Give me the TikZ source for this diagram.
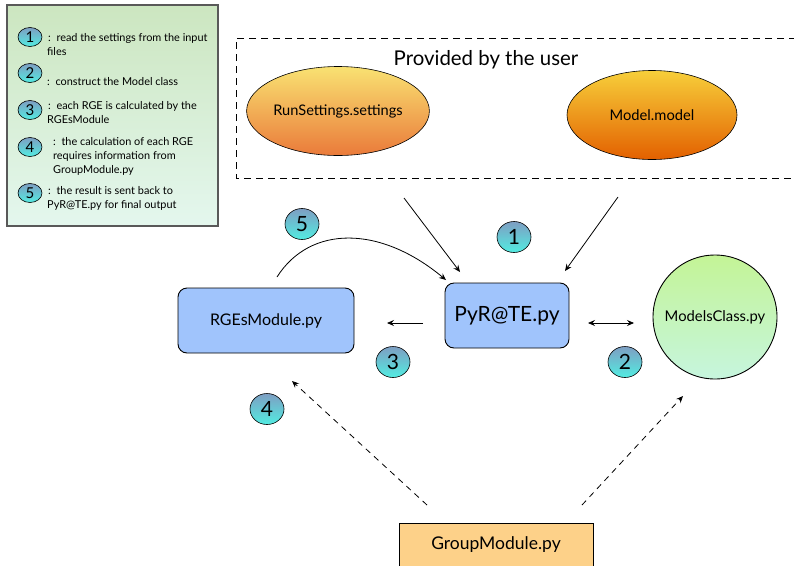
\documentclass[tikz,border=0pt]{standalone}
\usepackage{fontspec}
\setmainfont{Lato}
\usetikzlibrary{shapes.geometric,arrows.meta}
\definecolor{badgetop}{HTML}{7E9EC2}
\definecolor{badgebot}{HTML}{52ECE2}
\definecolor{legtop}{HTML}{CCE6C0}
\definecolor{legbot}{HTML}{E4F7EE}
\definecolor{boxblue}{HTML}{A0C4FC}
\definecolor{grpfill}{HTML}{FDD189}
\definecolor{rstop}{HTML}{F9E272}
\definecolor{rsbot}{HTML}{EA7A3A}
\definecolor{mmtop}{HTML}{F7CF3A}
\definecolor{mmbot}{HTML}{E36000}
\definecolor{mctop}{HTML}{C4F496}
\definecolor{mcbot}{HTML}{C6F5DE}
\tikzset{
  badge/.style={ellipse, draw=black, line width=0.6pt, top color=badgetop, bottom color=badgebot, inner sep=0pt},
  bigbadge/.style={badge, minimum width=34pt, minimum height=31pt, font=\fontsize{21}{21}\selectfont},
  smallbadge/.style={badge, minimum width=24pt, minimum height=19pt, font=\fontsize{15}{15}\selectfont},
  legtext/.style={anchor=base west, inner sep=0pt, font=\fontsize{10.9}{12}\selectfont},
  modbox/.style={draw=black, line width=0.9pt, rounded corners=9pt, fill=boxblue},
  arr/.style={line width=0.8pt, -{Stealth[length=7pt,width=6pt,inset=2.5pt]}},
  dasharr/.style={arr, dash pattern=on 6pt off 5pt}
}
\begin{document}
\begin{tikzpicture}[x=1pt,y=-1pt]
\useasboundingbox (0,0) rectangle (794,565);
\clip (0,0) rectangle (794,565);
% legend
\path[draw=black!65, line width=1.2pt, top color=legtop, bottom color=legbot] (7,5) rectangle (218,226);
\node[smallbadge] (l1) at (30,37) {1};
\node[legtext] (t1a) at (48,41) {:\ \ read the settings from the input};
\node[legtext] (t1b) at (47,55) {files};
\node[smallbadge] (l2) at (30,73) {2};
\node[legtext] (t2a) at (47,85) {:\ \ construct the Model class};
\node[smallbadge] (l3) at (30,110) {3};
\node[legtext] (t3a) at (48,109) {:\ \ each RGE is calculated by the};
\node[legtext] (t3b) at (47,123) {RGEsModule};
\node[smallbadge] (l4) at (30,147) {4};
\node[legtext] (t4a) at (53,145) {:\ \ the calculation of each RGE};
\node[legtext] (t4b) at (53,159) {requires information from};
\node[legtext] (t4c) at (53,173) {GroupModule.py};
\node[smallbadge] (l5) at (30,193) {5};
\node[legtext] (t5a) at (48,194) {:\ \ the result is sent back to};
\node[legtext] (t5b) at (47,208) {PyR@TE.py for final output};
% user box
\draw[line width=0.8pt, dash pattern=on 7pt off 5pt] (820,38) -- (236,38) -- (236,178) -- (820,178);
\node[font=\fontsize{20.4}{20.4}\selectfont] (user) at (486,60) {Provided by the user};
\node[ellipse, draw=black, line width=0.6pt, top color=rstop, bottom color=rsbot, minimum width=170pt, minimum height=89pt, inner sep=0pt, font=\fontsize{14.6}{14.6}\selectfont] (rs) at (338,111) {RunSettings.settings};
\node[ellipse, draw=black, line width=0.6pt, top color=mmtop, bottom color=mmbot, minimum width=170pt, minimum height=89pt, inner sep=0pt, font=\fontsize{14.7}{14.7}\selectfont] (mm) at (652,115) {Model.model};
% main nodes
\node[modbox, minimum width=124pt, minimum height=65pt, font=\fontsize{21}{21}\selectfont] (py) at (507,315.5) {PyR@TE.py};
\node[modbox, minimum width=176pt, minimum height=65pt, font=\fontsize{16}{16}\selectfont] (rge) at (266,320.5) {RGEsModule.py};
\node[circle, draw=black, line width=0.9pt, top color=mctop, bottom color=mcbot, minimum size=124pt, inner sep=0pt, font=\fontsize{14.8}{14.8}\selectfont] (mc) at (715,317) {ModelsClass.py};
\node[draw=black, line width=0.9pt, fill=grpfill, minimum width=194pt, minimum height=60pt, anchor=north, font=\fontsize{14}{14}\selectfont] (grp) at (496,523) {};
\node[font=\fontsize{17.5}{17.5}\selectfont] (grpt) at (496,545) {GroupModule.py};
% free ends
\coordinate (a1s) at (404,198);
\coordinate (a1e) at (460,272);
\coordinate (a2s) at (618,197);
\coordinate (a2e) at (565,271);
\coordinate (a3s) at (423,323);
\coordinate (a3e) at (387,323);
\coordinate (a4s) at (588,323);
\coordinate (a4e) at (634,323);
\coordinate (a5s) at (277,277);
\coordinate (a5e) at (446,280);
\coordinate (d1s) at (427,505);
\coordinate (d1e) at (292,381);
\coordinate (d2s) at (582,505);
\coordinate (d2e) at (683,396);
\draw[arr] (a1s) -- (a1e);
\draw[arr] (a2s) -- (a2e);
\draw[arr] (a3s) -- (a3e);
\draw[arr, {Stealth[length=7pt,width=6pt,inset=2.5pt]}-{Stealth[length=7pt,width=6pt,inset=2.5pt]}] (a4s) -- (a4e);
\draw[arr] (a5s) .. controls (310,225) and (380,225) .. (a5e);
\draw[dasharr] (d1s) -- (d1e);
\draw[dasharr] (d2s) -- (d2e);
% badges
\node[bigbadge] (b5) at (302,224) {5};
\node[bigbadge] (b1) at (514,237) {1};
\node[bigbadge] (b3) at (393,362) {3};
\node[bigbadge] (b2) at (625,362) {2};
\node[bigbadge] (b4) at (267,409) {4};
\end{tikzpicture}
\end{document}
